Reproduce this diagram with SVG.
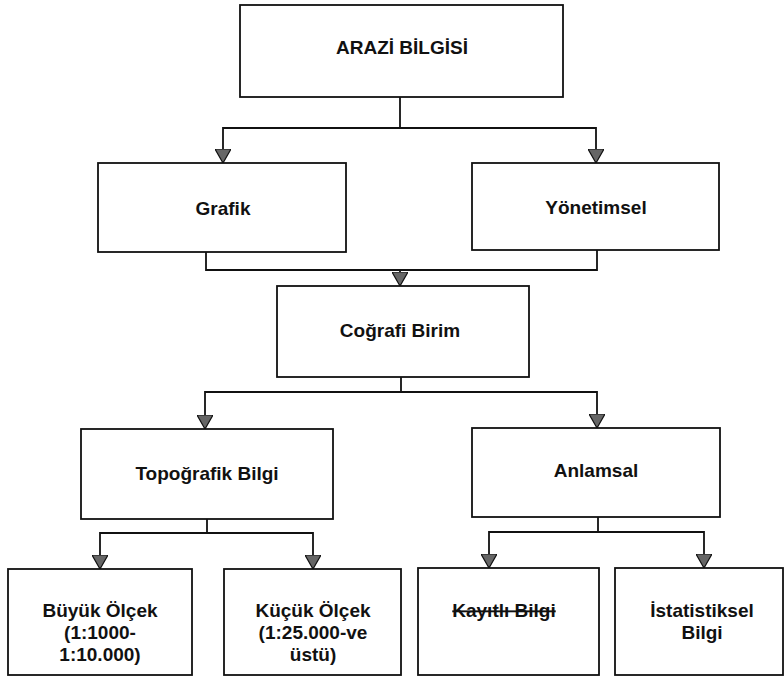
<svg xmlns="http://www.w3.org/2000/svg" width="784" height="677" viewBox="0 0 784 677">
<style>
.box{fill:#fff;stroke:#111;stroke-width:1.8}
.lbl{font-family:"Liberation Sans",Arial,sans-serif;font-weight:bold;font-size:19px;fill:#111;text-anchor:middle}
.conn{fill:none;stroke:#111;stroke-width:1.8}
</style>
<defs>
<marker id="arr" viewBox="0 0 14 16" refX="14" refY="8" markerWidth="14" markerHeight="16" markerUnits="userSpaceOnUse" orient="auto">
<path d="M0,0 L14,8 L0,16 Z" fill="#666" stroke="#111" stroke-width="1.2"/>
</marker>
</defs>
<rect width="784" height="677" fill="#fff"/>
<g id="connectors">
<path class="conn" d="M400,97 V128 H223 V163" marker-end="url(#arr)"/>
<path class="conn" d="M400,128 H596 V163" marker-end="url(#arr)"/>
<path class="conn" d="M206,252 V270 H400 V286" marker-end="url(#arr)"/>
<path class="conn" d="M597,250 V270 H400"/>
<path class="conn" d="M401,377 V392 H205 V429" marker-end="url(#arr)"/>
<path class="conn" d="M401,392 H597 V428" marker-end="url(#arr)"/>
<path class="conn" d="M207,519 V533 H100 V569" marker-end="url(#arr)"/>
<path class="conn" d="M207,533 H313 V569" marker-end="url(#arr)"/>
<path class="conn" d="M598,517 V532 H489 V568" marker-end="url(#arr)"/>
<path class="conn" d="M598,532 H704 V568" marker-end="url(#arr)"/>
</g>
<g id="arazi"><rect class="box" x="240" y="5" width="323" height="92"/><text class="lbl" x="402" y="54">ARAZİ BİLGİSİ</text></g>
<g id="grafik"><rect class="box" x="98" y="163" width="248" height="89"/><text class="lbl" x="223" y="215">Grafik</text></g>
<g id="yonetimsel"><rect class="box" x="472" y="163" width="247" height="87"/><text class="lbl" x="596" y="214">Yönetimsel</text></g>
<g id="cografi"><rect class="box" x="277" y="286" width="252" height="91"/><text class="lbl" x="400" y="337">Coğrafi Birim</text></g>
<g id="topografik"><rect class="box" x="81" y="429" width="252" height="90"/><text class="lbl" x="207" y="480">Topoğrafik Bilgi</text></g>
<g id="anlamsal"><rect class="box" x="472" y="428" width="248" height="89"/><text class="lbl" x="596" y="477">Anlamsal</text></g>
<g id="buyuk"><rect class="box" x="8" y="569" width="184" height="106"/><text class="lbl" x="100" y="617">Büyük Ölçek</text><text class="lbl" x="100" y="639">(1:1000-</text><text class="lbl" x="100" y="661">1:10.000)</text></g>
<g id="kucuk"><rect class="box" x="224" y="569" width="177" height="106"/><text class="lbl" x="313" y="617">Küçük Ölçek</text><text class="lbl" x="313" y="639">(1:25.000-ve</text><text class="lbl" x="313" y="661">üstü)</text></g>
<g id="kayitli"><rect class="box" x="418" y="568" width="181" height="107"/><text class="lbl" x="504" y="617" text-decoration="line-through">Kayıtlı Bilgi</text></g>
<g id="istatistik"><rect class="box" x="615" y="568" width="168" height="107"/><text class="lbl" x="702" y="617">İstatistiksel</text><text class="lbl" x="702" y="639">Bilgi</text></g>
</svg>
